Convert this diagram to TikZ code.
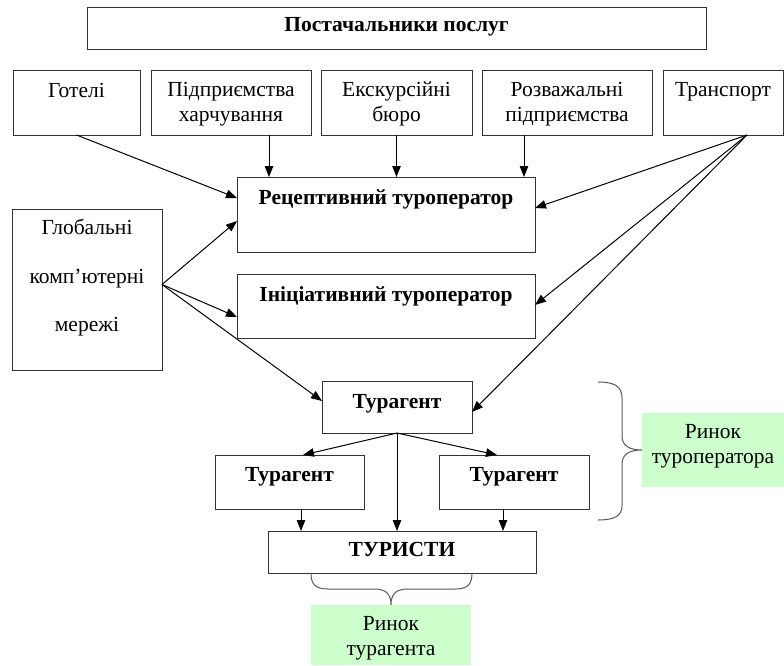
\documentclass[tikz,border=0pt]{standalone}
\usepackage{fontspec}
\setmainfont{Liberation Serif}
\usetikzlibrary{arrows.meta}
\definecolor{lightgreen}{HTML}{CCFFCC}
\begin{document}
\begin{tikzpicture}[x=1pt,y=-1pt,
  box/.style={draw=black!80, line width=1pt, inner sep=0pt, outer sep=0pt},
  txt/.style={font=\fontsize{21.5}{25}\selectfont, align=center, inner sep=0pt, anchor=center},
  btxt/.style={font=\fontsize{21.5}{25}\selectfont\bfseries, align=center, inner sep=0pt, anchor=center},
  arr/.style={-{Triangle[length=11pt,width=8.5pt]}, line width=1pt},
  ln/.style={line width=1pt},
  greenbox/.style={fill=lightgreen, inner sep=0pt, outer sep=0pt}]
\useasboundingbox (0,0) rectangle (784,665);

% top
\node[box, minimum width=619pt, minimum height=42pt,
  label={[btxt, yshift=-20pt]north:Постачальники послуг}] (top) at (396.5,28) {};

% suppliers row
\node[box, minimum width=127pt, minimum height=65pt,
  label={[txt, yshift=-20pt]north:Готелі}] (got) at (76.5,102.5) {};
\node[box, minimum width=160pt, minimum height=65pt,
  label={[txt, yshift=-34pt]north:Підприємства\\харчування}] (pid) at (231,102.5) {};
\node[box, minimum width=151pt, minimum height=65pt,
  label={[txt, yshift=-34pt]north:Екскурсійні\\бюро}] (exk) at (396.5,102.5) {};
\node[box, minimum width=170pt, minimum height=65pt,
  label={[txt, yshift=-34pt]north:Розважальні\\підприємства}] (roz) at (567,102.5) {};
\node[box, minimum width=120pt, minimum height=65pt,
  label={[txt, yshift=-22pt]north:Транспорт}] (tr) at (723,102.5) {};

% operators
\node[box, minimum width=298pt, minimum height=75pt,
  label={[btxt, yshift=-22pt]north:Рецептивний туроператор}] (rec) at (386,214.5) {};
\node[box, minimum width=298pt, minimum height=64pt,
  label={[btxt, yshift=-22pt]north:Ініціативний туроператор}] (ini) at (386,306) {};

% global networks
\node[box, minimum width=150pt, minimum height=161pt,
  label={[txt, font=\fontsize{21.5}{48.5}\selectfont, yshift=-69pt]north:Глобальні\\комп’ютерні\\мережі}] (glob) at (87,289.5) {};

% agents
\node[box, minimum width=150pt, minimum height=52pt,
  label={[btxt, yshift=-23pt]north:Турагент}] (tam) at (397,407) {};
\node[box, minimum width=149pt, minimum height=54pt,
  label={[btxt, yshift=-22pt]north:Турагент}] (tal) at (289.5,482) {};
\node[box, minimum width=150pt, minimum height=54pt,
  label={[btxt, yshift=-22pt]north:Турагент}] (tar) at (514,482) {};

% tourists
\node[box, minimum width=268pt, minimum height=42pt,
  label={[btxt, yshift=-18pt]north:ТУРИСТИ}] (tur) at (402,552) {};

% green labels
\node[greenbox, minimum width=142pt, minimum height=74pt,
  label={[txt, yshift=-33pt]north:Ринок\\туроператора}] (gr) at (713,450) {};
\node[greenbox, minimum width=160pt, minimum height=60pt,
  label={[txt, yshift=-33pt]north:Ринок\\турагента}] (gb) at (391,635) {};

% helper coordinates
\coordinate (r1) at ([xshift=32pt]rec.north west);
\coordinate (r3) at ([xshift=-11pt]rec.north east);
\coordinate (ts) at ([xshift=24pt]tr.south);
\coordinate (gs) at ([yshift=5pt]glob.east);
\coordinate (l1) at ([xshift=86pt]tal.south west);
\coordinate (r4) at ([xshift=64pt]tar.south west);

% suppliers -> receptive
\draw[arr] (got.south) -- ([yshift=-21pt]rec.north west);
\draw[arr] (r1 |- pid.south) -- (r1);
\draw[arr] (exk.south) -- (exk.south |- rec.north);
\draw[arr] (r3 |- roz.south) -- (r3);

% transport
\draw[arr] (ts) -- ([yshift=-31pt]rec.north east);
\draw[arr] (ts) -- ([yshift=-31pt]ini.north east);
\draw[arr] (ts) -- ([yshift=-31pt]tam.north east);

% global networks
\draw[arr] (gs) -- ([yshift=-44pt]rec.north west);
\draw[arr] (gs) -- ([yshift=-43pt]ini.north west);
\draw[arr] (gs) -- ([yshift=-20pt]tam.north west);

% agents
\draw[arr] (tam.south) -- ([xshift=88pt]tal.north west);
\draw[arr] (tam.south) -- ([xshift=58pt]tar.north west);
\draw[arr] (tam.south) -- (tam.south |- tur.north);
\draw[arr] (l1) -- (l1 |- tur.north);
\draw[arr] (r4) -- (r4 |- tur.north);

% right brace
\draw[ln, black!65] (598,382) .. controls (614,382) and (622,386) .. (622,398) -- (622,436)
  .. controls (622,446) and (630,450) .. (gr.west)
  .. controls (630,450) and (622,454) .. (622,464) -- (622,506)
  .. controls (622,516) and (614,520) .. (598,520);

% bottom brace
\draw[ln, black!65] (311,573) .. controls (311,585) and (316,589) .. (328,589) -- (374,589)
  .. controls (386,589) and (391,594) .. (gb.north)
  .. controls (391,594) and (396,589) .. (408,589) -- (455,589)
  .. controls (467,589) and (472,585) .. (472,573);
\end{tikzpicture}
\end{document}
